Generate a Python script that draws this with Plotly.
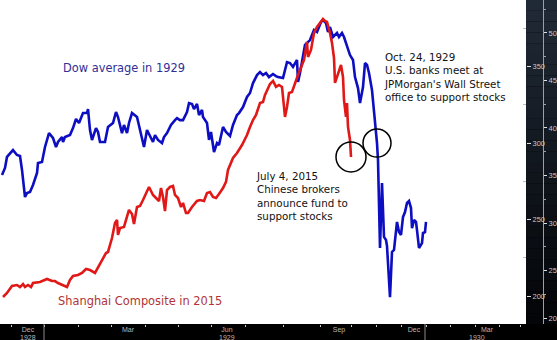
import plotly.graph_objects as go

# ---------------- data ----------------
# x = trading-session position on the shared time axis
dow_session = [2, 5, 7, 13, 17, 20, 22, 25, 27, 30, 33, 37, 38, 42, 45, 49, 53, 56, 58, 62, 63, 65, 70, 73, 76, 79, 83, 87, 88, 90,
               92, 96, 98, 100, 105, 108, 113, 116, 118, 122, 124, 127, 129, 132, 137, 139, 142, 144, 147, 151, 153, 155, 158, 162,
               164, 167, 171, 175, 177, 180, 183, 187, 189, 192, 194, 197, 199, 202, 203, 207, 209, 211, 214, 217, 219, 223, 226,
               230, 233, 237, 239, 243, 245, 247, 250, 253, 257, 260, 263, 266, 269, 273, 276, 278, 283, 287, 290, 293, 297, 298,
               300, 305, 310, 314, 317, 321, 323, 326, 328, 330, 333, 337, 339, 342, 344, 347, 350, 353, 355, 358, 360, 363, 365,
               367, 369, 372, 374, 376, 377, 378, 379, 380, 382, 384, 386, 387, 390, 392, 394, 397, 399, 401, 403, 405, 407, 409,
               411, 412, 414, 416, 417, 419, 422, 423, 425, 426]
dow = [279.1, 283.7, 290.9, 295.4, 292.2, 291.5, 282.4, 264.7, 267.3, 268.0, 272.6, 280.4, 286.9, 287.6, 297.4, 306.5, 303.3,
       297.4, 300.7, 303.9, 300.7, 303.9, 305.2, 309.8, 315.7, 313.1, 319.6, 319.6, 322.2, 308.5, 302.0, 309.8, 307.2, 300.7,
       300.7, 310.5, 313.1, 320.3, 317.0, 306.5, 311.8, 306.5, 313.1, 319.6, 317.0, 311.8, 303.9, 297.4, 308.5, 303.9, 300.7,
       305.2, 302.0, 300.0, 303.9, 306.5, 311.8, 315.0, 316.3, 315.0, 315.0, 320.3, 326.1, 325.5, 322.2, 325.5, 318.3, 321.6,
       317.0, 313.1, 302.0, 307.2, 294.1, 300.0, 298.7, 310.5, 307.2, 304.6, 311.8, 318.3, 319.6, 323.5, 326.8, 330.1, 332.7,
       339.2, 344.4, 346.4, 344.4, 345.8, 343.1, 345.1, 343.8, 343.1, 342.5, 352.9, 352.3, 349.7, 354.3, 339.9, 345.8, 364.1,
       367.3, 373.9, 372.6, 379.1, 380.4, 378.4, 372.6, 375.8, 369.3, 371.9, 369.3, 371.9, 369.3, 362.7, 357.5, 354.3, 343.1,
       335.9, 326.1, 336.6, 352.3, 351.0, 345.8, 334.6, 321.6, 308.5, 300.0, 288.9, 262.0, 231.4, 273.9, 238.6, 236.6, 232.7,
       199.3, 228.8, 230.1, 248.4, 241.8, 239.9, 251.6, 254.9, 260.8, 262.1, 257.5, 244.4, 249.7, 248.4, 243.1, 231.4, 234.6,
       241.2, 241.8, 248.4]

sh_session = [3, 7, 12, 17, 20, 23, 25, 28, 31, 33, 40, 47, 52, 55, 58, 62, 67, 70, 73, 78, 82, 86, 90, 95, 99, 103, 106, 108,
              112, 115, 117, 118, 120, 124, 127, 129, 132, 134, 137, 140, 143, 147, 149, 153, 157, 159, 161, 163, 165, 167, 170,
              173, 175, 178, 181, 183, 186, 188, 192, 197, 200, 204, 207, 210, 213, 216, 219, 223, 226, 228, 233, 237, 242, 247,
              250, 253, 256, 260, 263, 265, 270, 273, 276, 279, 282, 283, 285, 287, 289, 292, 295, 298, 302, 304, 307, 308, 311,
              314, 317, 320, 323, 325, 327, 330, 332, 334, 335, 337, 339, 341, 343, 344, 346, 347, 348, 350, 351]
shanghai = [2221, 2263, 2337, 2347, 2326, 2358, 2326, 2347, 2326, 2368, 2379, 2411, 2389, 2389, 2368, 2347, 2326, 2400, 2442,
            2453, 2474, 2516, 2505, 2474, 2547, 2621, 2684, 2695, 2842, 3000, 3032, 2874, 2947, 2958, 3063, 3137, 3095, 2989,
            3168, 3179, 3242, 3337, 3379, 3295, 3253, 3232, 3368, 3274, 3126, 3347, 3379, 3389, 3295, 3263, 3168, 3211, 3105,
            3105, 3168, 3232, 3242, 3232, 3316, 3326, 3274, 3263, 3305, 3368, 3432, 3558, 3684, 3737, 3821, 3926, 4011, 4084,
            4137, 4263, 4274, 4347, 4463, 4495, 4432, 4453, 4432, 4295, 4116, 4221, 4368, 4379, 4474, 4558, 4663, 4716, 4905,
            4747, 4821, 5000, 5063, 5105, 5147, 5126, 5116, 5000, 4895, 4737, 4474, 4537, 4611, 4663, 4537, 4295, 4116, 4263,
            4011, 3874, 3695]

month_pos = [28, 128, 227, 339, 414, 487]
month_labels = ["Dec", "Mar", "Jun", "Sep", "Dec", "Mar"]
year_pos = [28, 227, 477]
year_labels = ["1928", "1929", "1930"]
month_bounds = [11, 44, 78, 111, 145, 178, 211, 245, 283, 320, 351, 376, 401, 426, 450, 475, 499, 520]
year_bounds = [44, 425]

dow_ticks = [200, 250, 300, 350]
dow_minor = [225, 275, 325, 375]
sh_ticks = [2000, 2500, 3000, 3500, 4000, 4500, 5000]
sh_minor = [2250, 2750, 3250, 3750, 4250, 4750, 5250]

oct24_session = 377
# ---------------------------------------------------------------

W, H = 557, 340
PLOT_R = 526   # px
PLOT_B = 324   # px
dom_r = PLOT_R / W

def py(p):  # pixel y -> paper y (plot area 0..PLOT_B)
    return 1 - p / PLOT_B

def pxp(p):  # pixel x -> paper x
    return p / W

fig = go.Figure()
fig.add_trace(go.Scatter(x=dow_session, y=dow, mode="lines", yaxis="y",
                         line=dict(color="#0d0dc2", width=2.6), hoverinfo="skip"))
fig.add_trace(go.Scatter(x=sh_session, y=shanghai, mode="lines", yaxis="y2",
                         line=dict(color="#e01818", width=2.6), hoverinfo="skip"))

shapes = []
# dark gradient strip on the right
n = 30
for i in range(n):
    t = i / (n - 1)
    r = int(32 + (4 - 32) * t)
    g = int(42 + (5 - 42) * t)
    b = int(54 + (8 - 54) * t)
    shapes.append(dict(type="rect", xref="paper", yref="paper", layer="below",
                       x0=dom_r, x1=1.0, y0=1 - (i + 1) / n, y1=1 - i / n,
                       fillcolor=f"rgb({r},{g},{b})", line=dict(width=0)))
for xb in year_bounds:
    shapes.append(dict(type="line", xref="x", yref="paper", x0=xb, x1=xb,
                       y0=-(H - PLOT_B) / PLOT_B, y1=0, line=dict(color="#8a8a8a", width=1)))
# circles around the two key points
j = sh_session[-1]
shapes.append(dict(type="circle", xref="x", yref="y2", xsizemode="pixel", ysizemode="pixel",
                   xanchor=sh_session[-1], yanchor=shanghai[-1], x0=-15, x1=15, y0=-15, y1=15,
                   line=dict(color="black", width=1.5)))
k = dow_session.index(oct24_session)
shapes.append(dict(type="circle", xref="x", yref="y", xsizemode="pixel", ysizemode="pixel",
                   xanchor=dow_session[k], yanchor=dow[k], x0=-14, x1=14, y0=-14, y1=14,
                   line=dict(color="black", width=1.5)))

ann = []
ann.append(dict(xref="paper", yref="paper", x=pxp(61), y=py(68), xanchor="left", yanchor="middle",
                text="Dow average in 1929", showarrow=False,
                font=dict(family="DejaVu Sans", size=11.4, color="#2f2f95")))
ann.append(dict(xref="paper", yref="paper", x=pxp(56), y=py(301), xanchor="left", yanchor="middle",
                text="Shanghai Composite in 2015", showarrow=False,
                font=dict(family="DejaVu Sans", size=11.4, color="#b03434")))
ann.append(dict(xref="paper", yref="paper", x=pxp(382), y=py(77), xanchor="left", yanchor="middle",
                align="left", showarrow=False,
                text="Oct. 24, 1929<br>U.S. banks meet at<br>JPMorgan's Wall Street<br>office to support stocks",
                font=dict(family="DejaVu Sans", size=10.3, color="#111111")))
ann.append(dict(xref="paper", yref="paper", x=pxp(254), y=py(196), xanchor="left", yanchor="middle",
                align="left", showarrow=False,
                text="July 4, 2015<br>Chinese brokers<br>announce fund to<br>support stocks",
                font=dict(family="DejaVu Sans", size=10.3, color="#111111")))
for xp, lab in zip(year_pos, year_labels):
    ann.append(dict(xref="x", yref="paper", x=xp, y=py(337), xanchor="center", yanchor="middle",
                    text=lab, showarrow=False,
                    font=dict(family="Liberation Sans", size=7, color="#b8b8b8")))

fig.update_layout(
    width=W, height=H,
    margin=dict(l=0, r=0, t=0, b=H - PLOT_B, pad=0),
    paper_bgcolor="#000000", plot_bgcolor="#ffffff",
    showlegend=False,
    shapes=shapes, annotations=ann,
    xaxis=dict(domain=[0, dom_r], range=[0, PLOT_R], showgrid=False, zeroline=False, showline=False,
               tickmode="array", tickvals=month_pos, ticktext=month_labels, ticks="", ticklen=0,
               tickfont=dict(family="Liberation Sans", size=7, color="#b8b8b8"), automargin=False,
               minor=dict(tickmode="array", tickvals=month_bounds, ticks="outside", ticklen=2,
                          tickcolor="#cccccc", tickwidth=1, showgrid=False)),
    yaxis=dict(side="right", anchor="x", range=[181.7, 393.5], showgrid=False, zeroline=False,
               tickmode="array", tickvals=dow_ticks, ticks="outside", ticklen=4, tickcolor="#e0e0e0",
               tickfont=dict(family="Liberation Sans", size=7.5, color="#c8c8c8"), automargin=False,
               minor=dict(tickmode="array", tickvals=dow_minor, ticks="inside", ticklen=3,
                          tickcolor="#bbbbbb", showgrid=False)),
    yaxis2=dict(side="right", overlaying="y", anchor="free", position=543 / W, range=[1937, 5347],
                showgrid=False, zeroline=False, showline=True, linecolor="#9aa0a8", linewidth=1,
                tickmode="array", tickvals=sh_ticks, ticks="outside", ticklen=3, tickcolor="#e0e0e0",
                tickfont=dict(family="Liberation Sans", size=7.5, color="#c8c8c8"), automargin=False,
                minor=dict(tickmode="array", tickvals=sh_minor, ticks="outside", ticklen=2,
                           tickcolor="#9aa0a8", showgrid=False)),
)

fig.write_html("out.html")
